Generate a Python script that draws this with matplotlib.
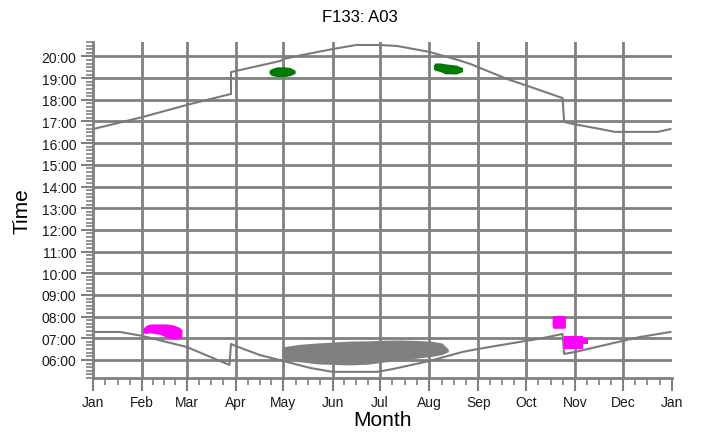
import matplotlib
matplotlib.use("Agg")
import matplotlib.pyplot as plt
import numpy as np

plt.rcParams['font.family'] = ['Liberation Sans', 'DejaVu Sans']

# Month labels at the first day of each month (day of year, 0 = Jan 1)
month_labels = ["Jan", "Feb", "Mar", "Apr", "May", "Jun", "Jul",
                "Aug", "Sep", "Oct", "Nov", "Dec", "Jan"]
month_starts = [0, 31, 59, 90, 120, 151, 181, 212, 243, 273, 304, 334, 365]

# Hour ticks
hour_ticks = list(range(6, 21))

# Sunset (hours, local clock time incl. DST steps)
sunset_day = [0, 31, 59, 87, 87, 90, 118, 120, 132, 151, 166, 181, 192,
              212, 230, 238, 261, 274, 296, 297, 303, 320, 329, 356, 364]
sunset_hr = [16.65, 17.20, 17.76, 18.27, 19.28, 19.33, 19.79, 19.88, 20.07,
             20.34, 20.53, 20.53, 20.48, 20.21, 19.84, 19.65, 18.96, 18.64,
             18.08, 16.98, 16.88, 16.65, 16.52, 16.52, 16.65]

# Sunrise
sunrise_day = [0, 17, 31, 59, 86, 87, 90, 105, 120, 137, 151, 179, 189,
               212, 233, 243, 273, 281, 296, 297, 304, 334, 345, 364]
sunrise_hr = [7.29, 7.29, 7.11, 6.60, 5.77, 6.74, 6.64, 6.23, 5.95, 5.63,
              5.45, 5.45, 5.58, 5.95, 6.37, 6.51, 6.88, 6.97, 7.20, 6.28,
              6.37, 6.88, 7.06, 7.29]

# Activity clusters (day, lower / upper time in hours)
gray_day = [119, 121, 130, 141, 152, 162, 173, 183, 194, 204, 214, 220, 224]
gray_lo = [6.20, 6.05, 5.92, 5.82, 5.79, 5.77, 5.80, 5.90, 5.98, 6.08, 6.17, 6.25, 6.38]
gray_hi = [6.50, 6.62, 6.72, 6.78, 6.83, 6.87, 6.88, 6.91, 6.92, 6.90, 6.86, 6.78, 6.50]

feb_day = [31.3, 33.5, 35.9, 42.2, 46.6, 50.4, 54.2, 56.1]
feb_lo = [7.25, 7.22, 7.25, 7.18, 7.03, 6.97, 6.97, 7.05]
feb_hi = [7.45, 7.60, 7.66, 7.66, 7.66, 7.62, 7.52, 7.40]

oct_day = [289.4, 290.0, 297.2, 297.8]
oct_lo = [7.55, 7.46, 7.46, 7.52]
oct_hi = [8.00, 8.05, 8.05, 8.00]

nov_day = [297.0, 309.0, 309.0, 312.0]
nov_lo = [6.51, 6.51, 6.74, 6.74]
nov_hi = [7.12, 7.12, 7.00, 7.00]

may_day = [111, 112.5, 116, 121, 124.5, 127.4]
may_lo = [19.22, 19.12, 19.07, 19.07, 19.12, 19.22]
may_hi = [19.36, 19.44, 19.52, 19.52, 19.48, 19.36]

aug_day = [214.6, 215.5, 219, 222, 229, 232.9]
aug_lo = [19.42, 19.36, 19.30, 19.20, 19.19, 19.30]
aug_hi = [19.60, 19.70, 19.70, 19.66, 19.60, 19.48]

GRID = "#808080"
LINE = "#7a7a7a"

fig = plt.figure(figsize=(7.01, 4.35), dpi=100)
ax = fig.add_axes([93 / 701, 56 / 435, 579 / 701, 336 / 435])

ymin, ymax = 5 + 10 / 60, 20 + 40 / 60
ax.set_xlim(0, 365)
ax.set_ylim(ymin, ymax)

# grid
for d in month_starts[1:-1]:
    ax.axvline(d, color=GRID, lw=2, zorder=1)
for h in hour_ticks:
    ax.axhline(h, color=GRID, lw=2, zorder=1)

# sunrise / sunset
ax.plot(sunset_day, sunset_hr, color=LINE, lw=1.5, zorder=2)
ax.plot(sunrise_day, sunrise_hr, color=LINE, lw=1.5, zorder=2)

# clusters
ax.fill_between(gray_day, gray_lo, gray_hi, color="#808080", lw=0, zorder=3)
for dd, lo, hi in [(feb_day, feb_lo, feb_hi), (oct_day, oct_lo, oct_hi),
                   (nov_day, nov_lo, nov_hi)]:
    ax.fill_between(dd, lo, hi, color="#ff00ff", lw=0, zorder=3)
for dd, lo, hi in [(may_day, may_lo, may_hi), (aug_day, aug_lo, aug_hi)]:
    ax.fill_between(dd, lo, hi, color="#007a00", lw=0, zorder=3)

# axes styling
for s in ["top", "right"]:
    ax.spines[s].set_visible(False)
for s in ["left", "bottom"]:
    ax.spines[s].set_color(GRID)
    ax.spines[s].set_linewidth(2)

ax.set_xticks(month_starts)
ax.set_xticklabels(month_labels)
minor_x = []
for a, b in zip(month_starts[:-1], month_starts[1:]):
    minor_x += [a + (b - a) * k / 4 for k in (1, 2, 3)]
ax.set_xticks(minor_x, minor=True)

ax.set_yticks(hour_ticks)
ax.set_yticklabels([f"{h:02d}:00" for h in hour_ticks])
ax.set_yticks(np.arange(ymin, ymax + 1e-6, 1 / 6), minor=True)

ax.tick_params(axis="both", which="major", length=9, width=1.5, color=GRID,
               labelsize=10, labelcolor="#1a1a1a", pad=3)
ax.tick_params(axis="both", which="minor", length=5, width=1.2, color=GRID)

ax.set_xlabel("Month", fontsize=15, labelpad=1)
ax.set_ylabel("Time", fontsize=15, labelpad=7)
fig.text(360 / 701, 1 - 18 / 435, "F133: A03", ha="center", va="center",
         fontsize=12)

fig.savefig("out.png", dpi=100)
